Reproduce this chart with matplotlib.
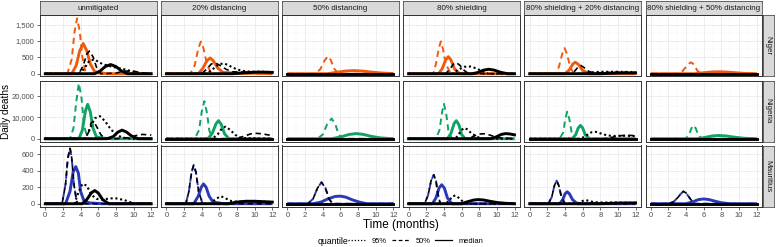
import matplotlib.pyplot as plt
from matplotlib.lines import Line2D
from matplotlib.ticker import FuncFormatter

plt.rcParams['font.family'] = ['Liberation Sans', 'DejaVu Sans']

scenarios = ['unmitigated', '20% distancing', '50% distancing', '80% shielding',
             '80% shielding + 20% distancing', '80% shielding + 50% distancing']
countries = ['Niger', 'Nigeria', 'Mauritius']
colours = ['#F05A0E', '#0FA364', '#2B38B8']
y_breaks = [[0, 500, 1000, 1500], [0, 10000, 20000], [0, 200, 400, 600]]
x_breaks = [0, 2, 4, 6, 8, 10, 12]

FLAT = ([0, 12], [0, 0])

# each entry: (time in months, daily deaths), one per scenario
# ---- Niger
niger_col_dash = [
    ([0, 2.5, 3.0, 3.3, 3.6, 3.9, 4.2, 4.6, 12], [0, 0, 450, 1250, 1690, 1300, 500, 0, 0]),
    ([0, 2.7, 3.2, 3.6, 3.9, 4.2, 4.6, 5.1, 12], [0, 0, 250, 750, 980, 780, 280, 0, 0]),
    ([0, 3.1, 3.7, 4.2, 4.55, 4.9, 5.3, 5.8, 12], [0, 0, 130, 400, 530, 420, 150, 0, 0]),
    ([0, 2.8, 3.1, 3.4, 3.65, 3.9, 4.2, 4.8, 12], [0, 0, 300, 750, 985, 750, 300, 0, 0]),
    ([0, 2.9, 3.3, 3.7, 3.95, 4.2, 4.6, 5.0, 12], [0, 0, 200, 620, 780, 620, 200, 0, 0]),
    ([0, 3.0, 3.6, 4.2, 4.55, 4.9, 5.3, 5.8, 12], [0, 0, 80, 280, 350, 280, 80, 0, 0]),
]
niger_col_solid = [
    ([0, 3.0, 3.5, 3.9, 4.3, 4.7, 5.1, 5.6, 6.5, 7.0, 12], [0, 0, 250, 700, 920, 700, 300, 60, 20, 0, 0]),
    ([0, 3.6, 4.1, 4.6, 4.95, 5.3, 5.8, 6.4, 8, 10, 12], [0, 0, 150, 400, 480, 400, 180, 40, 20, 15, 0]),
    ([0, 4.5, 5.5, 6.5, 7.5, 8.5, 9.5, 10.5, 11.5, 12], [0, 0, 40, 80, 95, 80, 50, 25, 10, 5]),
    ([0, 3.4, 3.8, 4.2, 4.5, 4.8, 5.2, 5.8, 12], [0, 0, 150, 420, 520, 420, 150, 0, 0]),
    ([0, 4.0, 4.5, 4.9, 5.15, 5.5, 6.0, 6.8, 12], [0, 0, 120, 300, 350, 290, 100, 0, 0]),
    ([0, 5.0, 6.0, 7.0, 7.8, 8.6, 9.6, 10.6, 12], [0, 0, 30, 55, 60, 50, 30, 10, 0]),
]
niger_k_dot = [
    ([0, 3.8, 4.4, 5.0, 5.6, 6.2, 7.0, 7.8, 8.5, 9.2, 10.0, 10.6, 12], [0, 0, 150, 400, 430, 330, 250, 200, 160, 120, 60, 0, 0]),
    ([0, 4.6, 5.3, 6.0, 6.6, 7.3, 8.0, 9.0, 10.0, 11.0, 12], [0, 0, 150, 300, 310, 220, 130, 70, 60, 60, 50]),
    FLAT,
    ([0, 5.0, 5.6, 6.3, 7.0, 7.6, 8.3, 9.0, 12], [0, 0, 120, 210, 220, 170, 80, 0, 0]),
    ([0, 6.0, 7.0, 8.0, 9.0, 10.0, 11.0, 12], [0, 0, 40, 60, 60, 60, 55, 50]),
    FLAT,
]
niger_k_dash = [
    ([0, 3.8, 4.3, 4.7, 5.0, 5.4, 5.8, 6.3, 8.0, 9.0, 10.0, 11.0, 12], [0, 0, 250, 600, 690, 520, 200, 0, 20, 80, 80, 20, 0]),
    ([0, 4.0, 4.6, 5.1, 5.6, 6.1, 6.8, 7.5, 8.5, 10.0, 11.5, 12], [0, 0, 150, 300, 320, 250, 130, 60, 50, 60, 50, 40]),
    FLAT,
    ([0, 4.2, 4.7, 5.1, 5.4, 5.8, 6.3, 6.8, 12], [0, 0, 150, 300, 340, 260, 100, 0, 0]),
    ([0, 4.7, 5.1, 5.5, 5.8, 6.2, 6.7, 7.2, 8, 9, 10, 11, 12], [0, 0, 80, 210, 250, 180, 70, 30, 30, 40, 50, 45, 40]),
    FLAT,
]
niger_k_solid = [
    ([0, 5.6, 6.2, 6.8, 7.4, 8.0, 8.6, 9.3, 12], [0, 0, 80, 220, 280, 220, 90, 0, 0]),
    ([0, 7.5, 8.5, 9.5, 10.5, 11.5, 12], [0, 0, 20, 40, 50, 45, 40]),
    FLAT,
    ([0, 7.2, 7.9, 8.5, 9.1, 9.7, 10.4, 11.2, 12], [0, 0, 40, 110, 135, 110, 45, 0, 0]),
    ([0, 8, 10, 12], [0, 0, 20, 25]),
    FLAT,
]

# ---- Nigeria
nigeria_col_dash = [
    ([0, 2.8, 3.2, 3.5, 3.8, 4.1, 4.4, 4.8, 12], [0, 0, 5000, 17000, 25800, 19000, 6000, 0, 0]),
    ([0, 3.2, 3.7, 4.0, 4.3, 4.6, 4.85, 5.2, 12], [0, 0, 4000, 12500, 17500, 12000, 4000, 0, 0]),
    ([0, 3.4, 4.0, 4.5, 5.0, 5.4, 5.8, 6.2, 12], [0, 0, 2000, 6800, 9400, 7000, 2000, 0, 0]),
    ([0, 3.1, 3.5, 3.8, 4.0, 4.25, 4.5, 4.9, 12], [0, 0, 4000, 12500, 16200, 12000, 4000, 0, 0]),
    ([0, 3.4, 3.8, 4.05, 4.25, 4.5, 4.75, 5.1, 12], [0, 0, 3000, 9500, 12600, 9000, 3000, 0, 0]),
    ([0, 3.9, 4.3, 4.6, 4.85, 5.1, 5.4, 5.8, 12], [0, 0, 1500, 4800, 6200, 4800, 1500, 0, 0]),
]
nigeria_col_solid = [
    ([0, 3.8, 4.2, 4.55, 4.8, 5.1, 5.4, 5.8, 6.5, 7.5, 12], [0, 0, 4000, 13000, 16000, 12500, 5000, 800, 300, 0, 0]),
    ([0, 4.7, 5.2, 5.6, 5.9, 6.2, 6.6, 7.1, 12], [0, 0, 2500, 6800, 8400, 6800, 2200, 0, 0]),
    ([0, 5.0, 6.0, 7.0, 7.8, 8.6, 9.5, 10.5, 11.5, 12], [0, 0, 800, 2000, 2400, 2000, 1100, 400, 100, 0]),
    ([0, 4.4, 4.8, 5.15, 5.4, 5.7, 6.0, 6.4, 12], [0, 0, 2500, 7000, 8400, 6500, 2000, 0, 0]),
    ([0, 4.8, 5.2, 5.5, 5.75, 6.0, 6.3, 6.8, 12], [0, 0, 1800, 5000, 6200, 5000, 1800, 0, 0]),
    ([0, 5.2, 6.0, 7.0, 7.7, 8.5, 9.5, 10.5, 11.5, 12], [0, 0, 500, 1300, 1500, 1300, 700, 250, 50, 0]),
]
nigeria_k_dot = [
    ([0, 4.5, 5.0, 5.6, 6.2, 6.8, 7.4, 8.0, 8.6, 9.2, 10.0, 12], [0, 0, 4000, 9500, 10500, 8000, 4500, 2000, 800, 200, 0, 0]),
    ([0, 5.2, 5.8, 6.3, 6.7, 7.2, 7.8, 8.5, 12], [0, 0, 2000, 4800, 5600, 4200, 1800, 300, 0]),
    FLAT,
    ([0, 5.3, 5.8, 6.2, 6.6, 7.1, 7.7, 8.3, 12], [0, 0, 2800, 4900, 4500, 2600, 1000, 0, 0]),
    ([0, 5.8, 6.4, 7.0, 7.5, 8.1, 8.8, 9.5, 10.5, 11.5, 12], [0, 0, 1500, 3000, 3200, 2400, 1500, 1300, 1400, 1300, 1200]),
    FLAT,
]
nigeria_k_dash = [
    ([0, 4.5, 4.9, 5.2, 5.5, 5.9, 6.3, 6.8, 8.0, 9.5, 10.3, 11.0, 11.8, 12], [0, 0, 3000, 7500, 8000, 5000, 1800, 0, 0, 500, 1500, 2000, 1800, 1700]),
    ([0, 8.0, 8.8, 9.6, 10.2, 10.8, 11.5, 12], [0, 0, 1200, 2300, 2500, 2300, 1800, 1500]),
    FLAT,
    ([0, 6.8, 7.4, 8.0, 8.6, 9.3, 10.0, 12], [0, 0, 1200, 2200, 2300, 1600, 500, 0]),
    ([0, 8.5, 9.5, 10.3, 11.0, 11.6, 12], [0, 0, 800, 1400, 1600, 1500, 1300]),
    FLAT,
]
nigeria_k_solid = [
    ([0, 7.0, 7.7, 8.2, 8.7, 9.2, 9.8, 10.5, 12], [0, 0, 1000, 3000, 4000, 3100, 1200, 0, 0]),
    FLAT,
    FLAT,
    ([0, 9.3, 9.9, 10.5, 11.0, 11.5, 12], [0, 0, 800, 2000, 2400, 2200, 1800]),
    FLAT,
    FLAT,
]

# ---- Mauritius
mauritius_k_dash = [
    ([0, 1.9, 2.3, 2.55, 2.8, 3.0, 3.25, 3.6, 12], [0, 0, 240, 550, 672, 550, 230, 0, 0]),
    ([0, 2.2, 2.55, 2.85, 3.1, 3.35, 3.65, 4.1, 12], [0, 0, 150, 380, 470, 380, 150, 0, 0]),
    ([0, 2.3, 2.9, 3.4, 3.85, 4.3, 4.7, 5.1, 12], [0, 0, 60, 190, 260, 190, 60, 0, 0]),
    ([0, 1.8, 2.2, 2.55, 2.85, 3.1, 3.35, 3.6, 12], [0, 0, 100, 280, 350, 280, 100, 0, 0]),
    ([0, 2.1, 2.5, 2.8, 3.05, 3.3, 3.6, 4.0, 12], [0, 0, 80, 220, 280, 220, 80, 0, 0]),
    ([0, 2.0, 2.6, 3.1, 3.4, 3.7, 4.0, 4.4, 4.9, 12], [0, 0, 25, 80, 120, 150, 130, 70, 0, 0]),
]
mauritius_col_dash = mauritius_k_dash
mauritius_col_solid = [
    ([0, 2.3, 2.8, 3.15, 3.45, 3.75, 4.0, 4.4, 5.0, 6.5, 12], [0, 0, 150, 380, 450, 370, 150, 30, 10, 0, 0]),
    ([0, 3.1, 3.6, 3.95, 4.2, 4.5, 4.85, 5.3, 6.5, 12], [0, 0, 90, 200, 240, 200, 90, 20, 0, 0]),
    ([0, 2.9, 3.8, 4.6, 5.4, 6.0, 6.6, 7.4, 8.2, 9.0, 12], [0, 0, 20, 60, 88, 92, 80, 45, 18, 0, 0]),
    ([0, 2.7, 3.1, 3.45, 3.75, 4.05, 4.4, 4.9, 12], [0, 0, 70, 190, 230, 190, 70, 0, 0]),
    ([0, 3.4, 3.75, 4.0, 4.25, 4.5, 4.85, 5.4, 12], [0, 0, 50, 120, 145, 120, 50, 0, 0]),
    ([0, 4.0, 4.8, 5.4, 6.0, 6.6, 7.3, 8.0, 9.0, 12], [0, 0, 25, 50, 58, 50, 30, 12, 0, 0]),
]
mauritius_k_dot = [
    ([0, 3.3, 3.8, 4.2, 4.7, 5.2, 5.8, 6.5, 7.3, 8.0, 8.7, 9.4, 10.0, 12], [0, 0, 150, 240, 220, 110, 60, 50, 65, 65, 50, 30, 0, 0]),
    ([0, 5.0, 5.6, 6.2, 6.8, 7.4, 8.0, 9.0, 10.0, 11.0, 12], [0, 0, 60, 90, 60, 30, 25, 30, 30, 25, 20]),
    FLAT,
    ([0, 4.2, 4.6, 5.0, 5.3, 5.7, 6.2, 6.8, 12], [0, 0, 40, 90, 100, 70, 20, 0, 0]),
    ([0, 5.4, 5.9, 6.3, 6.7, 7.2, 8.0, 9.0, 10.0, 11.0, 12], [0, 0, 30, 45, 35, 20, 15, 15, 15, 12, 10]),
    FLAT,
]
mauritius_k_solid = [
    ([0, 4.2, 4.7, 5.2, 5.6, 6.0, 6.5, 7.2, 12], [0, 0, 50, 130, 160, 130, 50, 0, 0]),
    ([0, 7.0, 8.0, 9.0, 10.0, 11.0, 12], [0, 0, 20, 30, 30, 25, 20]),
    FLAT,
    ([0, 6.0, 6.7, 7.4, 7.9, 8.5, 9.2, 10.0, 11.0, 12], [0, 0, 25, 45, 50, 45, 30, 15, 5, 0]),
    ([0, 8, 10, 12], [0, 0, 8, 10]),
    FLAT,
]

rows = [
    (niger_col_dash, niger_col_solid, niger_k_dot, niger_k_dash, niger_k_solid),
    (nigeria_col_dash, nigeria_col_solid, nigeria_k_dot, nigeria_k_dash, nigeria_k_solid),
    (mauritius_col_dash, mauritius_col_solid, mauritius_k_dot, mauritius_k_dash, mauritius_k_solid),
]

W, H = 778, 247
fig = plt.figure(figsize=(W / 100, H / 100), dpi=100)


def px_axes(left, top, w, h):
    return fig.add_axes([left / W, 1 - (top + h) / H, w / W, h / H])


DOT = (0, (1, 1.3))
DASH = (0, (3.2, 2.2))
row_tops = [15.5, 80.5, 145.5]
pw, ph, step = 116.5, 61, 121.1

for r in range(3):
    col_dash, col_solid, k_dot, k_dash, k_solid = rows[r]
    ymax = max(max(y) for s in rows[r] for _, y in s)
    for c in range(6):
        ax = px_axes(40 + c * step, row_tops[r], pw, ph)
        ax.set_axisbelow(True)
        ax.set_xticks(x_breaks)
        ax.set_xticks(range(1, 12, 2), minor=True)
        ax.set_yticks(y_breaks[r])
        ax.set_yticks([b + (y_breaks[r][1] / 2) for b in y_breaks[r]], minor=True)
        ax.grid(which='major', color='#EBEBEB', lw=0.6)
        ax.grid(which='minor', color='#F4F4F4', lw=0.3)

        t, y = col_dash[c]
        ax.plot(t, y, color=colours[r], lw=1.4, ls=DASH)
        t, y = col_solid[c]
        ax.plot(t, y, color=colours[r], lw=2.1, solid_capstyle='butt')
        t, y = k_dot[c]
        ax.plot(t, y, color='black', lw=1.5, ls=DOT)
        t, y = k_dash[c]
        ax.plot(t, y, color='black', lw=1.2, ls=DASH)
        t, y = k_solid[c]
        ax.plot(t, y, color='black', lw=2.1)

        ax.set_xlim(-0.6, 12.6)
        ax.set_ylim(-0.05 * ymax, 1.05 * ymax)
        for sp in ax.spines.values():
            sp.set_color('#333333')
            sp.set_linewidth(0.7)
        ax.tick_params(which='major', length=2.5, width=0.5, color='#333333',
                       labelsize=5.5, labelcolor='#4D4D4D', pad=1.5)
        ax.tick_params(which='minor', length=0)
        ax.yaxis.set_major_formatter(FuncFormatter(lambda v, p: f'{int(v):,}'))
        if c > 0:
            ax.tick_params(axis='y', left=False, labelleft=False)
        if r < 2:
            ax.tick_params(axis='x', bottom=False, labelbottom=False)

        if r == 0:
            st = px_axes(40 + c * step, 1.5, pw, 13.5)
            st.set_facecolor('#D9D9D9')
            st.set_xticks([])
            st.set_yticks([])
            for sp in st.spines.values():
                sp.set_color('#333333')
                sp.set_linewidth(0.5)
            st.text(0.5, 0.48, scenarios[c], ha='center', va='center',
                    fontsize=5.8, color='#1A1A1A', transform=st.transAxes)
        if c == 5:
            st = px_axes(40 + c * step + pw + 0.5, row_tops[r], 11, ph)
            st.set_facecolor('#D9D9D9')
            st.set_xticks([])
            st.set_yticks([])
            for sp in st.spines.values():
                sp.set_color('#333333')
                sp.set_linewidth(0.5)
            st.text(0.5, 0.5, countries[r], ha='center', va='center', rotation=-90,
                    fontsize=5.8, color='#1A1A1A', transform=st.transAxes)

fig.text(401 / W, 1 - 225 / H, 'Time (months)', ha='center', va='center', fontsize=8.5)
fig.text(6 / W, 1 - 111 / H, 'Daily deaths', ha='center', va='center', rotation=90, fontsize=7.2)

fig.text(318 / W, 1 - 241 / H, 'quantile', ha='left', va='center', fontsize=6.3)
handles = [Line2D([], [], color='black', lw=0.9, ls=(0, (1, 1.5))),
           Line2D([], [], color='black', lw=0.9, ls=(0, (3, 2))),
           Line2D([], [], color='black', lw=0.9)]
fig.legend(handles, ['95%', '50%', 'median'], loc='center left', ncol=3,
           bbox_to_anchor=(348 / W, 1 - 241 / H), frameon=False, fontsize=5.4,
           handlelength=2.3, handletextpad=0.9, columnspacing=0.6, borderpad=0,
           borderaxespad=0)

fig.savefig('out.png', dpi=100)
